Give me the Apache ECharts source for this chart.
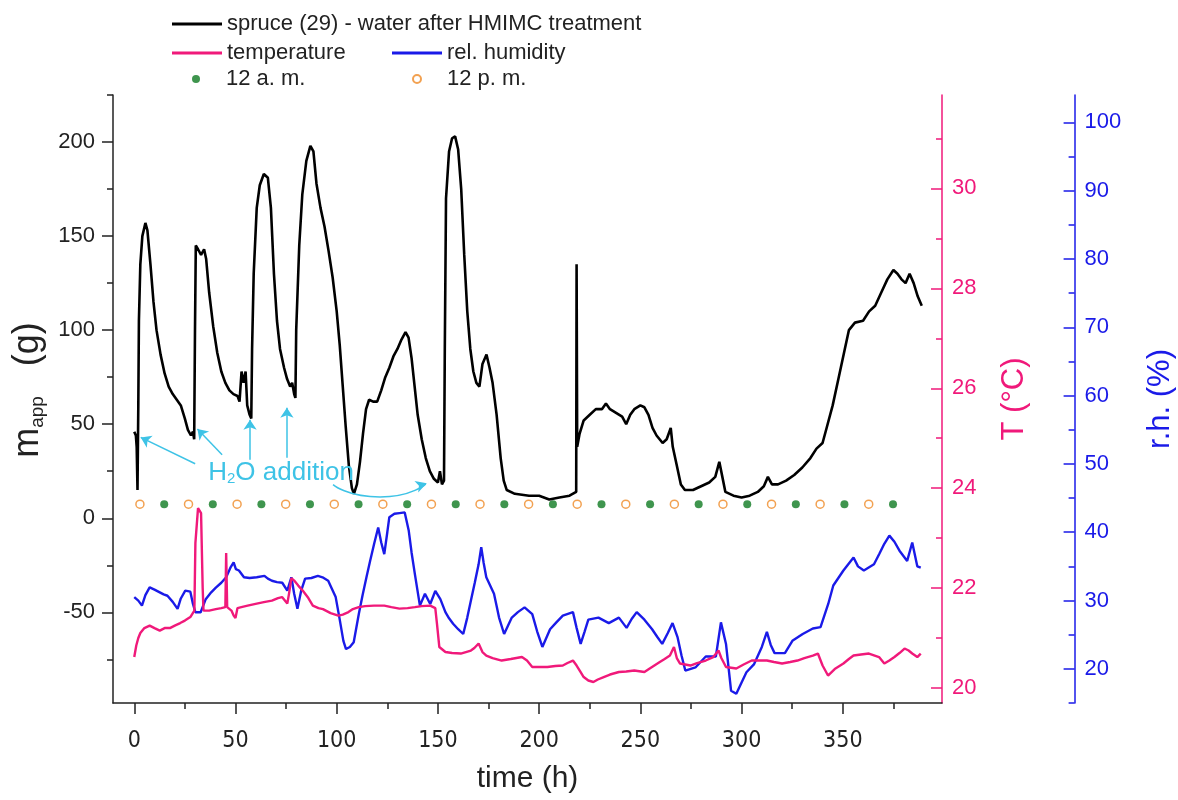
<!DOCTYPE html>
<html>
<head>
<meta charset="utf-8">
<script src="https://cdn.jsdelivr.net/npm/echarts@6/dist/echarts.min.js"></script>
<style>html,body{margin:0;padding:0;background:#fff}#c{width:1178px;height:800px}</style>
</head>
<body>
<div id="c"></div>
<script>
// ---------- data ----------
var massTime = [0,0.8,1.2,1.6,2.0,2.3,3,4,5.5,6.5,8,9.5,11,13,15,17,19,21,23,25,26.5,28,29,29.6,30,30.4,31.5,33,34.5,35.5,37,39,41,43,45,47,49,51,52,53,54,55,55.8,57,57.8,58.2,59,60.5,62,64,66,67.5,69,70.5,72,74,75.5,77,78,79,79.6,80,81.5,83,85,87,88.5,90,92,94,96,98,100,101.5,103,104.5,106,107.5,108.5,110,111.5,113,114.5,116,118,120,122,124,126,128,130,132,134,135.5,137,138.5,140,142,144,146,148,150,151,152,153,153.4,154,155.5,157,158.5,160,161.5,163,164.5,166,167.5,169,170.5,172,174,175.5,177,179,181,182.5,184,188,195,200,205,210,215,218.3,218.5,218.8,220,222,225,228,231,233,235,238,241,243,245,247,250,252,254,256,258,261,263,265,266,268,270,272,276,280,284,287,289,290.5,292,296,300,304,308,311,313,315,318,322,326,330,334,337,340,342,345,348,351,353,356,360,363,366,369,372,375,377,379,381,383,385,387,389];
var massValue = [46,44,38,15,60,105,135,150,157,153,135,115,100,87,77,70,66,63,60,53,47,44,46,42,100,145,143,140,143,138,120,102,88,78,72,68,66,65,62,78,72,78,60,55,53,90,130,165,177,183,181,165,130,105,90,80,74,70,72,66,64,100,145,172,190,198,195,178,165,155,142,128,110,92,70,48,28,16,13,18,30,45,58,63,62,62,68,75,80,86,90,95,99,96,85,70,55,42,32,25,21,19,25,18,20,90,170,195,202,203,196,175,140,110,90,78,72,70,82,87,80,72,55,32,20,15,13,12,12,10,11,12,14,135,38,45,52,55,58,58,61,58,56,54,50,55,58,60,59,55,48,44,40,42,48,38,28,18,15,15,17,19,22,30,22,14,12,11,12,14,17,22,18,18,20,23,27,32,37,40,48,60,75,90,100,104,105,110,113,120,127,132,130,127,125,130,125,118,113];

var tempTime = [0,1,2,3,5,7.6,10,12.6,15,17.6,20,22.7,25,27.7,29.7,30.2,31.5,33,33.8,34.2,37,40.3,43,45,45.4,45.9,48,49.1,50,51,52.9,56,60.5,64,68,71,73,75.6,76.5,77.6,79,81,83.2,86,88.2,91,93.2,97,100.8,103,105.8,108,110.9,114,118.4,123.5,127,131,135,138.6,142,146.2,148.7,149.5,150.7,153.7,157,161.3,166.3,168,170.1,172,173.9,177,181.5,186,191.5,194,196.6,200,204.1,208,211.7,214,216.7,218.5,220.5,222,224.3,226.8,229,231.9,235,239.4,243,247,252,255,259.6,262,264.6,266.6,268,269.6,274.7,278,282.3,286,288.6,290,292.3,297.4,301,305,309,312.5,316,320,324,327.6,331,335.2,337.7,340,342.7,346,350.3,353,355.3,359,362.9,367.9,370.5,373,375.5,378,380.5,382.5,384.3,386.8,388.5];
var tempValue = [20.62,20.85,21.0,21.1,21.2,21.25,21.2,21.15,21.2,21.2,21.25,21.3,21.35,21.42,21.55,22.9,23.6,23.5,22.0,21.55,21.55,21.58,21.6,21.62,22.7,21.62,21.55,21.45,21.4,21.6,21.62,21.65,21.69,21.72,21.75,21.8,21.82,21.69,21.9,22.2,22.15,22.05,21.95,21.8,21.65,21.6,21.58,21.5,21.45,21.47,21.52,21.58,21.62,21.64,21.65,21.65,21.62,21.59,21.6,21.62,21.64,21.65,21.6,21.3,20.82,20.72,20.7,20.69,20.75,20.8,20.89,20.72,20.65,20.6,20.55,20.58,20.62,20.55,20.42,20.42,20.42,20.44,20.45,20.5,20.55,20.45,20.32,20.22,20.15,20.12,20.17,20.22,20.27,20.32,20.33,20.35,20.32,20.4,20.52,20.58,20.65,20.82,20.6,20.49,20.45,20.5,20.55,20.62,20.75,20.6,20.42,20.39,20.47,20.55,20.55,20.55,20.52,20.49,20.52,20.55,20.6,20.65,20.69,20.45,20.25,20.38,20.49,20.58,20.65,20.67,20.69,20.62,20.49,20.55,20.62,20.7,20.79,20.75,20.69,20.62,20.69];

var rhTime = [0,2,3.8,5.5,7.6,10,12.6,14.5,16.4,19,21.4,23,25.2,27.7,29,30.2,32.8,35.3,38,40.3,43,45.4,47.5,49.1,50.2,51.7,54.2,57,60.5,64.3,66,68,70.5,73.1,75.6,77.6,79,80.6,82.5,84.4,87.5,90.7,93,95.8,97.5,99.5,101.5,103.3,104.6,106.5,108.4,110.9,112.8,114.7,116.5,118.5,120.5,122,123.5,125,126,128.5,131,133.6,135.6,137,138.6,141.1,143.6,146.2,148.7,151.2,153.7,155.5,157.5,160,162.5,164.5,166.3,168.2,170.1,171.4,172.6,173.9,175.8,177.7,179,180.2,182.7,184.6,186.5,189.5,192.8,196.6,199,201.6,205.4,208.5,211.7,216.7,218.5,220.5,222.5,224.3,229.3,234.4,239.4,243.2,245.7,248.2,252,255.8,258.3,260.8,263.5,265.9,268.4,270.3,272.2,277.2,282.3,287.3,289.8,292.3,294.8,297.4,300,302.4,306.2,310,312.5,314.4,316.3,321.4,325.1,330.2,335.2,339,342.8,345.3,350.3,355.3,357.5,360.4,365.4,368,370.5,373,375.5,378,381.8,384.3,386.8,388.5];
var rhValue = [30.5,29.98,29.25,30.8,31.93,31.6,31.2,30.9,30.7,29.8,28.77,30.3,31.44,31.3,29.5,28.28,28.28,30.2,31.2,31.9,32.6,33.4,34.8,35.58,34.6,34.4,33.4,33.3,33.4,33.6,33.2,32.9,32.7,32.6,31.45,33.4,31.0,28.8,31.5,33.2,33.3,33.6,33.4,32.9,31.8,30.5,27.2,24.1,22.9,23.2,23.9,28.0,30.8,33.4,35.8,38.3,40.7,38.5,36.8,40,42.2,42.7,42.8,42.9,40.2,37,33.9,29.25,31,29.5,31.4,30.2,28.3,27.4,26.6,25.8,25.1,27.5,30,32.6,35.3,37.8,35.5,33.4,32.2,31,29.2,27.5,25.1,26.3,27.5,28.3,29,28,25.5,23.2,25.8,26.8,27.8,28.3,26,23.65,25.5,27.2,27.5,26.7,27.5,26,27.3,28.3,27.2,25.8,24.7,23.65,25.2,26.7,24.6,22,19.75,20.2,21.8,21.8,26.8,23.65,16.8,16.35,18,19.5,20.7,23.2,25.4,23.5,22.3,22.3,24.1,25.1,25.9,26.1,29.5,32.2,34.4,36.3,35,34.4,35.3,36.8,38.3,39.5,38.6,37.3,35.8,38.5,35,34.8];

var amTimes = [14.8,38.8,62.8,86.8,110.8,134.8,158.8,182.8,206.8,230.8,254.8,278.8,302.8,326.8,350.8,374.8];
var pmTimes = [2.8,26.8,50.8,74.8,98.8,122.8,146.8,170.8,194.8,218.8,242.8,266.8,290.8,314.8,338.8,362.8];
var markerLevel = 7.5;

var xLabels = [0,50,100,150,200,250,300,350];
var xMinor = [25,75,125,175,225,275,325,375];
var mLabels = [-50,0,50,100,150,200];
var mMinor = [-75,-25,25,75,125,175,225];
var tLabels = [20,22,24,26,28,30];
var tMinor = [21,23,25,27,29,31];
var rhLabels = [20,30,40,50,60,70,80,90,100];
var rhMinor = [15,25,35,45,55,65,75,85,95];

// annotation: straight arrows [tailT, tailM, headT, headM]
var straightArrows = [
  [30.1, 29.0, 3.2, 43.0],
  [43.4, 33.8, 31.2, 47.5],
  [57.2, 31.1, 57.2, 52.4],
  [75.4, 32.2, 75.4, 58.8]
];
// curved arrow path (t, m) and its head
var curveT = [98.2, 121.4, 144.0];
var curveM = [17.9, 11.3, 18.3];
var curveHead = [144.5, 18.6];
var noteT = 72.5, noteM = 24.2;

// ---------- build ----------
function zip(a, b) { return a.map(function (v, i) { return [v, b[i]]; }); }
var PINK = '#f0197a', BLUE = '#1a1ae8', CYAN = '#3ec3e6', TXT = '#222';
var FONT = "'Liberation Sans', Arial, sans-serif";
var NARROW = "'Liberation Sans Narrow', 'Arial Narrow', 'DejaVu Sans Condensed', sans-serif";

var chart = echarts.init(document.getElementById('c'), null, { renderer: 'canvas' });

function axisBase(min, max, labels, color, extra) {
  var o = {
    type: 'value', min: min, max: max, splitLine: { show: false },
    axisLine: { show: true, onZero: false, lineStyle: { color: color, width: 1.5 } },
    axisTick: { show: true, customValues: labels, length: 11, lineStyle: { color: color, width: 1.5 } },
    axisLabel: { show: true, customValues: labels, color: color, fontSize: 22, fontFamily: FONT }
  };
  for (var k in extra) o[k] = extra[k];
  return o;
}
function minorAxis(min, max, vals, color, extra) {
  var o = {
    type: 'value', min: min, max: max, splitLine: { show: false },
    axisLine: { show: false, onZero: false },
    axisTick: { show: true, customValues: vals, length: 6, lineStyle: { color: color, width: 1.5 } },
    axisLabel: { show: false }
  };
  for (var k in extra) o[k] = extra[k];
  return o;
}

var X0 = -10.5, X1 = 399;
var M0 = -98.2, M1 = 225;
var T0 = 19.7, T1 = 31.87;
var R0 = 15, R1 = 104;
var RH_OFFSET = 132.6;

var xAxes = [
  axisBase(X0, X1, xLabels, TXT, {
    position: 'bottom', name: 'time (h)', nameLocation: 'middle', nameGap: 61,
    nameTextStyle: { fontSize: 30, color: TXT, fontFamily: FONT }
  }),
  minorAxis(X0, X1, xMinor, TXT, { position: 'bottom' })
];
xAxes[0].axisLabel.fontSize = 23;
xAxes[0].axisLabel.fontFamily = NARROW;
xAxes[0].axisLabel.margin = 27;

var yAxes = [
  axisBase(M0, M1, mLabels, TXT, {
    position: 'left', name: '{a|m}{s|app}{a|   (g)}', nameLocation: 'middle', nameGap: 58, nameRotate: 90,
    nameTextStyle: { fontFamily: FONT, color: TXT, padding: [0, 0, 0, 18], rich: {
      a: { fontSize: 36, color: TXT, fontFamily: FONT, lineHeight: 38 },
      s: { fontSize: 19, color: TXT, fontFamily: FONT, lineHeight: 12, verticalAlign: 'bottom' } } }
  }),
  axisBase(T0, T1, tLabels, PINK, {
    position: 'right', offset: 0, name: 'T (°C)', nameLocation: 'middle', nameGap: 57, nameRotate: 90,
    nameTextStyle: { fontSize: 31, color: PINK, fontFamily: FONT }
  }),
  axisBase(R0, R1, rhLabels, BLUE, {
    position: 'right', offset: RH_OFFSET, name: 'r.h. (%)', nameLocation: 'middle', nameGap: 70, nameRotate: 90,
    nameTextStyle: { fontSize: 31, color: BLUE, fontFamily: FONT }
  }),
  minorAxis(M0, M1, mMinor, TXT, { position: 'left' }),
  minorAxis(T0, T1, tMinor, PINK, { position: 'right', offset: 0 }),
  minorAxis(R0, R1, rhMinor, BLUE, { position: 'right', offset: RH_OFFSET })
];
yAxes[0].axisLabel.margin = 18;
yAxes[1].axisTick.inside = true; yAxes[1].axisLabel.margin = 10;
yAxes[2].axisTick.inside = true; yAxes[2].axisLabel.margin = 10;
yAxes[4].axisTick.inside = true;
yAxes[5].axisTick.inside = true;

var arrowData = straightArrows.map(function (a) {
  return [{ coord: [a[0], a[1]] }, { coord: [a[2], a[3]] }];
});

function legendAt(name, left, top, w, h, icon, pad) {
  return {
    data: [{ name: name, icon: icon }], left: left, top: top, orient: 'horizontal', selectedMode: false,
    itemWidth: w, itemHeight: h, itemGap: 0, padding: 0,
    textStyle: { fontSize: 22, color: TXT, fontFamily: FONT, padding: [0, 0, 0, pad] }
  };
}

var SPRUCE = 'spruce (29) - water after HMIMC treatment';
var arrowLine = { color: CYAN, width: 1.5, type: 'solid' };
chart.setOption({
  animation: false,
  backgroundColor: '#fff',
  grid: { left: 113, right: 236, top: 95, bottom: 97, containLabel: false, outerBoundsMode: 'none' },
  legend: [
    legendAt(SPRUCE, 172, 13, 50, 3, 'rect', 0),
    legendAt('temperature', 172, 42, 50, 3, 'rect', 0),
    legendAt('rel. humidity', 392, 42, 50, 3, 'rect', 0),
    legendAt('12 a. m.', 192, 68, 8, 8, 'circle', 21),
    legendAt('12 p. m.', 412, 68, 8, 8, 'circle', 21)
  ],
  xAxis: xAxes,
  yAxis: yAxes,
  series: [
    { name: 'rel. humidity', type: 'line', xAxisIndex: 0, yAxisIndex: 2, data: zip(rhTime, rhValue),
      showSymbol: false, symbol: 'none', lineStyle: { color: BLUE, width: 2.4 }, itemStyle: { color: BLUE } },
    { name: 'temperature', type: 'line', xAxisIndex: 0, yAxisIndex: 1, data: zip(tempTime, tempValue),
      showSymbol: false, symbol: 'none', lineStyle: { color: PINK, width: 2.4 }, itemStyle: { color: PINK } },
    { name: SPRUCE, type: 'line', xAxisIndex: 0, yAxisIndex: 0, data: zip(massTime, massValue),
      showSymbol: false, symbol: 'none', lineStyle: { color: '#000', width: 2.6 }, itemStyle: { color: '#000' },
      markLine: { silent: true, symbol: ['none', 'arrow'], symbolSize: 10, animation: false,
        label: { show: false }, lineStyle: arrowLine, data: arrowData },
      markPoint: { silent: true, symbol: 'circle', symbolSize: 1, itemStyle: { color: 'rgba(0,0,0,0)' },
        label: { show: true, position: 'inside', formatter: '{a|H}{s|2}{a|O addition}',
          rich: { a: { fontSize: 26, color: CYAN, fontFamily: FONT, lineHeight: 28 },
                  s: { fontSize: 15, color: CYAN, fontFamily: FONT, lineHeight: 12, verticalAlign: 'bottom' } } },
        data: [{ coord: [noteT, noteM] }] } },
    { name: 'curveArrow', type: 'line', xAxisIndex: 0, yAxisIndex: 0, data: zip(curveT, curveM), silent: true,
      smooth: 0.7, showSymbol: false, symbol: 'none', lineStyle: { color: CYAN, width: 1.5 },
      markPoint: { silent: true, symbol: 'arrow', symbolSize: [9, 11], symbolRotate: -72,
        itemStyle: { color: CYAN }, label: { show: false },
        data: [{ coord: curveHead }] } },
    { name: '12 a. m.', type: 'scatter', xAxisIndex: 0, yAxisIndex: 0,
      data: amTimes.map(function (t) { return [t, markerLevel]; }),
      symbol: 'circle', symbolSize: 8, itemStyle: { color: '#0f7a22' } },
    { name: '12 p. m.', type: 'scatter', xAxisIndex: 0, yAxisIndex: 0,
      data: pmTimes.map(function (t) { return [t, markerLevel]; }),
      symbol: 'circle', symbolSize: 8, itemStyle: { color: '#fff', borderColor: '#ef8a26', borderWidth: 1.5 } }
  ]
});
</script>
</body>
</html>
